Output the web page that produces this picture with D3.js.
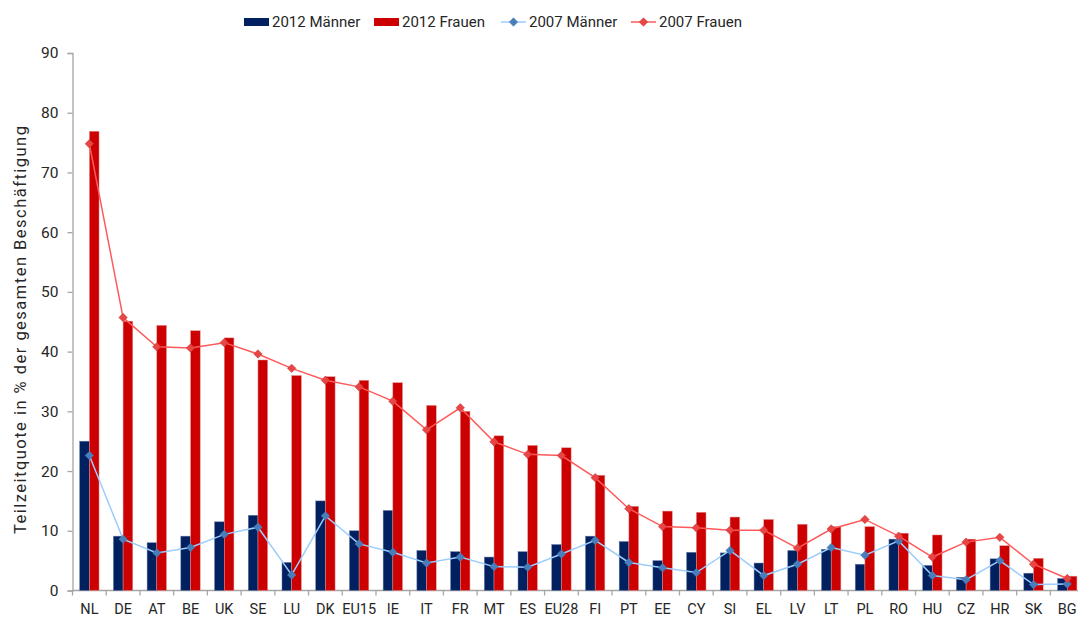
<!DOCTYPE html>
<html>
<head>
<meta charset="utf-8">
<script src="https://cdn.jsdelivr.net/npm/d3@7"></script>
<style>
  html, body { margin: 0; padding: 0; background: #fff; }
  svg { display: block; font-family: Roboto, "Noto Sans", sans-serif; }
</style>
</head>
<body>
<svg id="chart" width="1078" height="618"></svg>
<script>
// Teilzeitquoten nach Land und Geschlecht (in % der gesamten Beschäftigung)
const countries = ["NL","DE","AT","BE","UK","SE","LU","DK","EU15","IE","IT","FR","MT","ES","EU28",
                   "FI","PT","EE","CY","SI","EL","LV","LT","PL","RO","HU","CZ","HR","SK","BG"];
const men2012   = [25.0, 9.1, 8.0, 9.1, 11.5, 12.6, 4.7, 15.0, 10.0, 13.4, 6.7, 6.5, 5.6, 6.5, 7.7,
                   9.1, 8.2, 5.0, 6.4, 6.3, 4.6, 6.7, 6.9, 4.4, 8.6, 4.2, 2.2, 5.3, 2.9, 2.0];
const women2012 = [76.9, 45.1, 44.4, 43.5, 42.3, 38.6, 36.0, 35.8, 35.2, 34.8, 31.0, 30.0, 25.9, 24.3, 23.9,
                   19.3, 14.1, 13.3, 13.1, 12.3, 11.9, 11.1, 10.7, 10.7, 9.6, 9.3, 8.6, 7.5, 5.4, 2.4];
const men2007   = [22.6, 8.6, 6.3, 7.2, 9.4, 10.6, 2.6, 12.5, 7.8, 6.4, 4.6, 5.6, 4.0, 3.9, 6.1,
                   8.4, 4.7, 3.8, 3.0, 6.7, 2.5, 4.4, 7.2, 5.9, 8.3, 2.5, 1.8, 5.0, 1.0, 1.1];
const women2007 = [74.8, 45.7, 40.8, 40.6, 41.5, 39.6, 37.2, 35.2, 34.1, 31.7, 26.9, 30.6, 24.9, 22.8, 22.6,
                   18.9, 13.7, 10.7, 10.5, 10.1, 10.1, 7.1, 10.3, 11.9, 9.1, 5.6, 8.1, 8.9, 4.4, 2.0];
const yTicks = [0, 10, 20, 30, 40, 50, 60, 70, 80, 90];
const legendLabels = ["2012 Männer", "2012 Frauen", "2007 Männer", "2007 Frauen"];
const yTitle = "Teilzeitquote in % der gesamten Beschäftigung";

const svg = d3.select("#chart");
const textColor = "#262626";
const axisColor = "#a6a6a6";
const colors = {
  men2012: "#002060",
  men2012Edge: "#6d7fa8",
  women2012: "#cc0000",
  women2012Edge: "#e49a9a",
  men2007Line: "#9dcdfb",
  men2007Mark: "#4a7ebb",
  women2007Line: "#ff5a5a",
  women2007Mark: "#e94545",
  women2007Edge: "#c73a3a"
};

const left = 72.5, step = 33.72, baseY = 590.5, topY = 53;
const x = d3.scaleBand().domain(countries).range([left, left + step * countries.length]).padding(0);
const xSub = d3.scaleBand().domain(["m", "f"]).range([0, x.bandwidth()]).paddingInner(0).paddingOuter(0.74);
const y = d3.scaleLinear().domain([0, 90]).range([baseY, topY]);

// diamond marker path centered on (0,0)
const diamond = r => `M0,${-r}L${r},0L0,${r}L${-r},0Z`;

// y axis
const yAxis = svg.append("g")
  .attr("transform", `translate(${left},0)`)
  .call(d3.axisLeft(y).tickValues(yTicks).tickSize(5).tickPadding(9).tickFormat(d3.format("d")));
yAxis.select(".domain").attr("stroke", axisColor).attr("stroke-width", 1.3);
yAxis.selectAll(".tick line").attr("stroke", axisColor).attr("stroke-width", 1.3);
yAxis.selectAll(".tick text").attr("fill", textColor).attr("font-size", 15.5).attr("font-family", "Roboto, sans-serif");

// x axis: category ticks at band boundaries
const xAxisG = svg.append("g");
xAxisG.append("line")
  .attr("x1", left).attr("x2", x.range()[1])
  .attr("y1", baseY).attr("y2", baseY)
  .attr("stroke", axisColor).attr("stroke-width", 1.3);
xAxisG.selectAll("line.tk")
  .data(d3.range(countries.length + 1))
  .join("line")
  .attr("class", "tk")
  .attr("x1", i => left + i * x.step()).attr("x2", i => left + i * x.step())
  .attr("y1", baseY).attr("y2", baseY + 5)
  .attr("stroke", axisColor).attr("stroke-width", 1.3);
xAxisG.selectAll("text")
  .data(countries)
  .join("text")
  .attr("x", d => x(d) + x.bandwidth() / 2)
  .attr("y", 613.5)
  .attr("text-anchor", "middle")
  .attr("font-size", 14.5)
  .attr("fill", textColor)
  .text(d => d);

// y axis title
svg.append("text")
  .attr("transform", `translate(26,330) rotate(-90)`)
  .attr("text-anchor", "middle")
  .attr("font-size", 16.5)
  .attr("fill", textColor)
  .attr("textLength", 408)
  .attr("lengthAdjust", "spacing")
  .text(yTitle);

// bars
const bars = svg.append("g");
bars.selectAll("rect.m")
  .data(countries)
  .join("rect")
  .attr("class", "m")
  .attr("x", d => x(d) + xSub("m"))
  .attr("y", (d, i) => y(men2012[i]))
  .attr("width", xSub.bandwidth())
  .attr("height", (d, i) => baseY - y(men2012[i]))
  .attr("fill", colors.men2012)
  .attr("stroke", colors.men2012Edge)
  .attr("stroke-width", 0.5);
bars.selectAll("rect.f")
  .data(countries)
  .join("rect")
  .attr("class", "f")
  .attr("x", d => x(d) + xSub("f"))
  .attr("y", (d, i) => y(women2012[i]))
  .attr("width", xSub.bandwidth())
  .attr("height", (d, i) => baseY - y(women2012[i]))
  .attr("fill", colors.women2012)
  .attr("stroke", colors.women2012Edge)
  .attr("stroke-width", 0.5);

// 2007 lines with diamond markers
const cx = d => x(d) + x.bandwidth() / 2;
function drawSeries(values, lineColor, markFill, markEdge) {
  const pts = countries.map((c, i) => [cx(c), y(values[i])]);
  svg.append("path")
    .attr("d", d3.line()(pts))
    .attr("fill", "none")
    .attr("stroke", lineColor)
    .attr("stroke-width", 1.5);
  svg.append("g").selectAll("path")
    .data(pts)
    .join("path")
    .attr("transform", p => `translate(${p[0]},${p[1]})`)
    .attr("d", diamond(4.2))
    .attr("fill", markFill)
    .attr("stroke", markEdge)
    .attr("stroke-width", 0.6);
}
drawSeries(men2007, colors.men2007Line, colors.men2007Mark, colors.men2007Mark);
drawSeries(women2007, colors.women2007Line, colors.women2007Mark, colors.women2007Edge);

// legend
const legendX = [244, 374, 501, 631];
const legend = svg.append("g");
legendLabels.forEach((label, i) => {
  const g = legend.append("g").attr("transform", `translate(${legendX[i]},0)`);
  if (i < 2) {
    g.append("rect").attr("x", 0).attr("y", 18).attr("width", 25).attr("height", 8)
      .attr("fill", i === 0 ? colors.men2012 : colors.women2012);
  } else {
    const lc = i === 2 ? colors.men2007Line : colors.women2007Line;
    const mc = i === 2 ? colors.men2007Mark : colors.women2007Mark;
    const me = i === 2 ? colors.men2007Mark : colors.women2007Edge;
    g.append("line").attr("x1", 0).attr("x2", 25).attr("y1", 22).attr("y2", 22)
      .attr("stroke", lc).attr("stroke-width", 1.5);
    g.append("path").attr("transform", "translate(12.5,22)").attr("d", diamond(4.2))
      .attr("fill", mc).attr("stroke", me).attr("stroke-width", 0.6);
  }
  g.append("text").attr("x", 28).attr("y", 27)
    .attr("font-size", 15).attr("fill", textColor).text(label);
});
</script>
</body>
</html>
